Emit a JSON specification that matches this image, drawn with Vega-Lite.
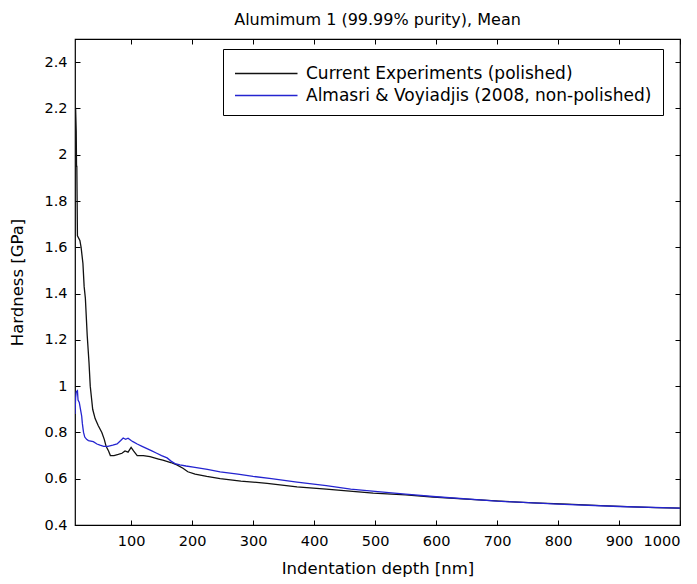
{
  "$schema": "https://vega.github.io/schema/vega-lite/v6.json",
  "width": 605,
  "height": 486,
  "autosize": {"type": "none"},
  "padding": {"left": 75, "top": 39, "right": 17, "bottom": 59},
  "background": "white",
  "title": {"text": "Alumimum 1 (99.99% purity), Mean", "font": "DejaVu Sans", "fontSize": 16, "fontWeight": "normal", "color": "black", "offset": 11},
  "config": {
    "view": {"stroke": "black", "strokeWidth": 1.2},
    "axis": {"labelFont": "DejaVu Sans", "titleFont": "DejaVu Sans", "labelFontSize": 14.5, "titleFontSize": 16.5, "titleFontWeight": "normal", "labelColor": "black", "titleColor": "black", "domain": false, "grid": false, "tickColor": "black", "tickSize": -5, "tickWidth": 1}
  },
  "data": {"values": [
    {"depth": 8, "hardness": 2.2, "series": "Current Experiments (polished)"},
    {"depth": 9, "hardness": 2.2, "series": "Current Experiments (polished)"},
    {"depth": 10, "hardness": 2.1, "series": "Current Experiments (polished)"},
    {"depth": 10.5, "hardness": 1.95, "series": "Current Experiments (polished)"},
    {"depth": 11, "hardness": 1.95, "series": "Current Experiments (polished)"},
    {"depth": 11.5, "hardness": 1.8, "series": "Current Experiments (polished)"},
    {"depth": 12, "hardness": 1.65, "series": "Current Experiments (polished)"},
    {"depth": 16, "hardness": 1.63, "series": "Current Experiments (polished)"},
    {"depth": 18, "hardness": 1.6, "series": "Current Experiments (polished)"},
    {"depth": 21, "hardness": 1.53, "series": "Current Experiments (polished)"},
    {"depth": 23, "hardness": 1.43, "series": "Current Experiments (polished)"},
    {"depth": 25, "hardness": 1.38, "series": "Current Experiments (polished)"},
    {"depth": 28, "hardness": 1.22, "series": "Current Experiments (polished)"},
    {"depth": 31, "hardness": 1.1, "series": "Current Experiments (polished)"},
    {"depth": 33, "hardness": 1.0, "series": "Current Experiments (polished)"},
    {"depth": 35, "hardness": 0.95, "series": "Current Experiments (polished)"},
    {"depth": 37, "hardness": 0.9, "series": "Current Experiments (polished)"},
    {"depth": 41, "hardness": 0.86, "series": "Current Experiments (polished)"},
    {"depth": 46, "hardness": 0.83, "series": "Current Experiments (polished)"},
    {"depth": 52, "hardness": 0.8, "series": "Current Experiments (polished)"},
    {"depth": 56, "hardness": 0.77, "series": "Current Experiments (polished)"},
    {"depth": 59, "hardness": 0.74, "series": "Current Experiments (polished)"},
    {"depth": 63, "hardness": 0.72, "series": "Current Experiments (polished)"},
    {"depth": 66, "hardness": 0.7, "series": "Current Experiments (polished)"},
    {"depth": 72, "hardness": 0.7, "series": "Current Experiments (polished)"},
    {"depth": 79, "hardness": 0.705, "series": "Current Experiments (polished)"},
    {"depth": 85, "hardness": 0.71, "series": "Current Experiments (polished)"},
    {"depth": 90, "hardness": 0.72, "series": "Current Experiments (polished)"},
    {"depth": 95, "hardness": 0.715, "series": "Current Experiments (polished)"},
    {"depth": 100, "hardness": 0.735, "series": "Current Experiments (polished)"},
    {"depth": 104, "hardness": 0.72, "series": "Current Experiments (polished)"},
    {"depth": 110, "hardness": 0.7, "series": "Current Experiments (polished)"},
    {"depth": 120, "hardness": 0.7, "series": "Current Experiments (polished)"},
    {"depth": 131, "hardness": 0.695, "series": "Current Experiments (polished)"},
    {"depth": 145, "hardness": 0.685, "series": "Current Experiments (polished)"},
    {"depth": 152, "hardness": 0.68, "series": "Current Experiments (polished)"},
    {"depth": 165, "hardness": 0.67, "series": "Current Experiments (polished)"},
    {"depth": 175, "hardness": 0.66, "series": "Current Experiments (polished)"},
    {"depth": 185, "hardness": 0.645, "series": "Current Experiments (polished)"},
    {"depth": 193, "hardness": 0.63, "series": "Current Experiments (polished)"},
    {"depth": 205, "hardness": 0.62, "series": "Current Experiments (polished)"},
    {"depth": 224, "hardness": 0.61, "series": "Current Experiments (polished)"},
    {"depth": 246, "hardness": 0.6, "series": "Current Experiments (polished)"},
    {"depth": 280, "hardness": 0.59, "series": "Current Experiments (polished)"},
    {"depth": 323, "hardness": 0.58, "series": "Current Experiments (polished)"},
    {"depth": 372, "hardness": 0.565, "series": "Current Experiments (polished)"},
    {"depth": 420, "hardness": 0.555, "series": "Current Experiments (polished)"},
    {"depth": 497, "hardness": 0.538, "series": "Current Experiments (polished)"},
    {"depth": 550, "hardness": 0.53, "series": "Current Experiments (polished)"},
    {"depth": 595, "hardness": 0.521, "series": "Current Experiments (polished)"},
    {"depth": 650, "hardness": 0.512, "series": "Current Experiments (polished)"},
    {"depth": 705, "hardness": 0.503, "series": "Current Experiments (polished)"},
    {"depth": 760, "hardness": 0.496, "series": "Current Experiments (polished)"},
    {"depth": 815, "hardness": 0.49, "series": "Current Experiments (polished)"},
    {"depth": 870, "hardness": 0.484, "series": "Current Experiments (polished)"},
    {"depth": 923, "hardness": 0.478, "series": "Current Experiments (polished)"},
    {"depth": 960, "hardness": 0.475, "series": "Current Experiments (polished)"},
    {"depth": 1000, "hardness": 0.473, "series": "Current Experiments (polished)"},
    {"depth": 8, "hardness": 0.88, "series": "Almasri & Voyiadjis (2008, non-polished)"},
    {"depth": 9, "hardness": 0.95, "series": "Almasri & Voyiadjis (2008, non-polished)"},
    {"depth": 10, "hardness": 0.975, "series": "Almasri & Voyiadjis (2008, non-polished)"},
    {"depth": 12, "hardness": 0.98, "series": "Almasri & Voyiadjis (2008, non-polished)"},
    {"depth": 13, "hardness": 0.94, "series": "Almasri & Voyiadjis (2008, non-polished)"},
    {"depth": 15, "hardness": 0.93, "series": "Almasri & Voyiadjis (2008, non-polished)"},
    {"depth": 17, "hardness": 0.9, "series": "Almasri & Voyiadjis (2008, non-polished)"},
    {"depth": 19, "hardness": 0.87, "series": "Almasri & Voyiadjis (2008, non-polished)"},
    {"depth": 20, "hardness": 0.84, "series": "Almasri & Voyiadjis (2008, non-polished)"},
    {"depth": 21, "hardness": 0.82, "series": "Almasri & Voyiadjis (2008, non-polished)"},
    {"depth": 22, "hardness": 0.8, "series": "Almasri & Voyiadjis (2008, non-polished)"},
    {"depth": 24, "hardness": 0.78, "series": "Almasri & Voyiadjis (2008, non-polished)"},
    {"depth": 27, "hardness": 0.77, "series": "Almasri & Voyiadjis (2008, non-polished)"},
    {"depth": 30, "hardness": 0.765, "series": "Almasri & Voyiadjis (2008, non-polished)"},
    {"depth": 38, "hardness": 0.76, "series": "Almasri & Voyiadjis (2008, non-polished)"},
    {"depth": 44, "hardness": 0.75, "series": "Almasri & Voyiadjis (2008, non-polished)"},
    {"depth": 49, "hardness": 0.745, "series": "Almasri & Voyiadjis (2008, non-polished)"},
    {"depth": 55, "hardness": 0.74, "series": "Almasri & Voyiadjis (2008, non-polished)"},
    {"depth": 62, "hardness": 0.74, "series": "Almasri & Voyiadjis (2008, non-polished)"},
    {"depth": 70, "hardness": 0.745, "series": "Almasri & Voyiadjis (2008, non-polished)"},
    {"depth": 77, "hardness": 0.75, "series": "Almasri & Voyiadjis (2008, non-polished)"},
    {"depth": 83, "hardness": 0.765, "series": "Almasri & Voyiadjis (2008, non-polished)"},
    {"depth": 87, "hardness": 0.776, "series": "Almasri & Voyiadjis (2008, non-polished)"},
    {"depth": 91, "hardness": 0.77, "series": "Almasri & Voyiadjis (2008, non-polished)"},
    {"depth": 95, "hardness": 0.775, "series": "Almasri & Voyiadjis (2008, non-polished)"},
    {"depth": 100, "hardness": 0.765, "series": "Almasri & Voyiadjis (2008, non-polished)"},
    {"depth": 103, "hardness": 0.76, "series": "Almasri & Voyiadjis (2008, non-polished)"},
    {"depth": 110, "hardness": 0.75, "series": "Almasri & Voyiadjis (2008, non-polished)"},
    {"depth": 118, "hardness": 0.74, "series": "Almasri & Voyiadjis (2008, non-polished)"},
    {"depth": 126, "hardness": 0.73, "series": "Almasri & Voyiadjis (2008, non-polished)"},
    {"depth": 134, "hardness": 0.72, "series": "Almasri & Voyiadjis (2008, non-polished)"},
    {"depth": 142, "hardness": 0.71, "series": "Almasri & Voyiadjis (2008, non-polished)"},
    {"depth": 150, "hardness": 0.7, "series": "Almasri & Voyiadjis (2008, non-polished)"},
    {"depth": 159, "hardness": 0.69, "series": "Almasri & Voyiadjis (2008, non-polished)"},
    {"depth": 166, "hardness": 0.675, "series": "Almasri & Voyiadjis (2008, non-polished)"},
    {"depth": 172, "hardness": 0.665, "series": "Almasri & Voyiadjis (2008, non-polished)"},
    {"depth": 180, "hardness": 0.66, "series": "Almasri & Voyiadjis (2008, non-polished)"},
    {"depth": 190, "hardness": 0.655, "series": "Almasri & Voyiadjis (2008, non-polished)"},
    {"depth": 202, "hardness": 0.65, "series": "Almasri & Voyiadjis (2008, non-polished)"},
    {"depth": 225, "hardness": 0.64, "series": "Almasri & Voyiadjis (2008, non-polished)"},
    {"depth": 246, "hardness": 0.63, "series": "Almasri & Voyiadjis (2008, non-polished)"},
    {"depth": 275, "hardness": 0.62, "series": "Almasri & Voyiadjis (2008, non-polished)"},
    {"depth": 300, "hardness": 0.61, "series": "Almasri & Voyiadjis (2008, non-polished)"},
    {"depth": 330, "hardness": 0.6, "series": "Almasri & Voyiadjis (2008, non-polished)"},
    {"depth": 372, "hardness": 0.585, "series": "Almasri & Voyiadjis (2008, non-polished)"},
    {"depth": 420, "hardness": 0.57, "series": "Almasri & Voyiadjis (2008, non-polished)"},
    {"depth": 460, "hardness": 0.555, "series": "Almasri & Voyiadjis (2008, non-polished)"},
    {"depth": 500, "hardness": 0.545, "series": "Almasri & Voyiadjis (2008, non-polished)"},
    {"depth": 550, "hardness": 0.533, "series": "Almasri & Voyiadjis (2008, non-polished)"},
    {"depth": 600, "hardness": 0.522, "series": "Almasri & Voyiadjis (2008, non-polished)"},
    {"depth": 700, "hardness": 0.503, "series": "Almasri & Voyiadjis (2008, non-polished)"},
    {"depth": 800, "hardness": 0.49, "series": "Almasri & Voyiadjis (2008, non-polished)"},
    {"depth": 900, "hardness": 0.48, "series": "Almasri & Voyiadjis (2008, non-polished)"},
    {"depth": 1000, "hardness": 0.473, "series": "Almasri & Voyiadjis (2008, non-polished)"}
  ]},
  "layer": [
    {
      "mark": {"type": "line", "strokeWidth": 1.3, "clip": true},
      "encoding": {
        "x": {"field": "depth", "type": "quantitative", "scale": {"domain": [8, 1000], "nice": false, "zero": false},
              "axis": {"title": "Indentation depth [nm]", "values": [100, 200, 300, 400, 500, 600, 700, 800, 900, 1000], "format": "d", "labelPadding": 14, "titlePadding": 13}},
        "y": {"field": "hardness", "type": "quantitative", "scale": {"domain": [0.4, 2.5], "nice": false, "zero": false},
              "axis": {"title": "Hardness [GPa]", "values": [0.4, 0.6, 0.8, 1, 1.2, 1.4, 1.6, 1.8, 2, 2.2, 2.4], "format": "~g", "labelPadding": 13, "titlePadding": 18}},
        "color": {"field": "series", "type": "nominal",
                  "scale": {"domain": ["Current Experiments (polished)", "Almasri & Voyiadjis (2008, non-polished)"], "range": ["#111111", "#2424d0"]},
                  "legend": {"title": null, "orient": "none", "legendX": 148, "legendY": 10, "strokeColor": "black", "fillColor": "white", "padding": 11,
                             "symbolType": "M-1,0H4", "symbolSize": 625, "symbolStrokeWidth": 1.3, "labelOffset": 45, "labelFont": "DejaVu Sans", "labelFontSize": 17, "labelColor": "black", "labelLimit": 500, "rowPadding": -4}}
      }
    },
    {
      "mark": {"type": "line", "opacity": 0},
      "encoding": {
        "x": {"field": "depth", "type": "quantitative", "scale": {"domain": [8, 1000], "nice": false, "zero": false},
              "axis": {"orient": "top", "title": null, "labels": false, "values": [100, 200, 300, 400, 500, 600, 700, 800, 900, 1000]}},
        "y": {"field": "hardness", "type": "quantitative", "scale": {"domain": [0.4, 2.5], "nice": false, "zero": false},
              "axis": {"orient": "right", "title": null, "labels": false, "values": [0.4, 0.6, 0.8, 1, 1.2, 1.4, 1.6, 1.8, 2, 2.2, 2.4]}},
        "detail": {"field": "series"}
      }
    }
  ],
  "resolve": {"axis": {"x": "independent", "y": "independent"}}
}
